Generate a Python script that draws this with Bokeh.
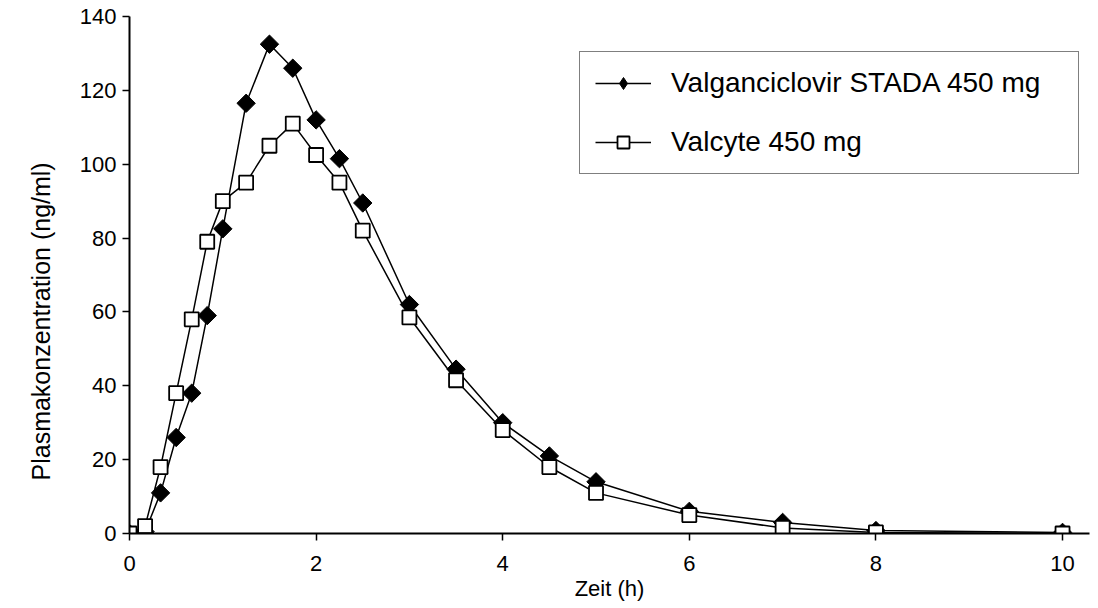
import math
from bokeh.plotting import figure
from bokeh.models import Range1d, Legend, LegendItem, Title
from bokeh.embed import file_html
from bokeh.resources import INLINE

# ---- data ----
time_h = [0, 0.167, 0.333, 0.5, 0.667, 0.833, 1.0, 1.25, 1.5, 1.75, 2.0, 2.25,
          2.5, 3.0, 3.5, 4.0, 4.5, 5.0, 6.0, 7.0, 8.0, 10.0]
stada = [0, 0.5, 11, 26, 38, 59, 82.5, 116.5, 132.5, 126, 112, 101.5,
         89.5, 62, 44.5, 30, 21, 14, 6, 3, 0.8, 0.3]
valcyte = [0, 2, 18, 38, 58, 79, 90, 95, 105, 111, 102.5, 95,
           82, 58.5, 41.5, 28, 18, 11, 5, 1.5, 0.3, 0]
x_ticks = [0, 2, 4, 6, 8, 10]
y_ticks = [0, 20, 40, 60, 80, 100, 120, 140]
series_names = ["Valganciclovir STADA 450 mg", "Valcyte 450 mg"]
x_title = "Zeit (h)"
y_title = "Plasmakonzentration (ng/ml)"

FONT = "Liberation Sans"

p = figure(width=1095, height=606, output_backend="svg", toolbar_location=None,
           x_range=Range1d(0, 10.289), y_range=Range1d(0, 140),
           min_border_left=129, min_border_right=6, min_border_top=16,
           min_border_bottom=73)
p.outline_line_color = None
p.xgrid.visible = False
p.ygrid.visible = False
p.background_fill_color = "white"
p.border_fill_color = "white"

for ax in (p.xaxis, p.yaxis):
    ax.axis_line_width = 2
    ax.axis_line_color = "black"
    ax.major_tick_line_width = 1.5
    ax.major_tick_line_color = "black"
    ax.major_tick_in = 0
    ax.major_tick_out = 7
    ax.minor_tick_line_color = None
    ax.major_label_text_font = FONT
    ax.major_label_text_font_size = "22px"
    ax.major_label_text_color = "black"
p.xaxis.major_label_standoff = 15
p.yaxis.major_label_standoff = 6

p.xaxis.ticker = x_ticks
p.yaxis.ticker = y_ticks

# series: STADA (filled diamonds) then Valcyte (open squares) on top
l1 = p.line(time_h, stada, line_color="black", line_width=1.5)
s1 = p.scatter(time_h, stada, marker="square", angle=math.pi / 4, size=13,
               fill_color="black", line_color="black", line_width=1)
l2 = p.line(time_h, valcyte, line_color="black", line_width=1.5)
s2 = p.scatter(time_h, valcyte, marker="square", size=14,
               fill_color="white", line_color="black", line_width=1.8)

# legend-only diamond marker (placed outside the visible range)
d1 = p.scatter([-100], [-100], marker="diamond", size=16,
               fill_color="black", line_color="black")

legend = Legend(items=[LegendItem(label=series_names[0], renderers=[l1, d1]),
                       LegendItem(label=series_names[1], renderers=[l2, s2])],
                location=(450, 359), margin=0, padding=15, spacing=27,
                glyph_width=56, glyph_height=30, label_height=30,
                label_width=392, label_standoff=20,
                label_text_font=FONT, label_text_font_size="28px",
                label_text_color="black",
                border_line_color="black", border_line_width=1.5,
                background_fill_color="white", background_fill_alpha=1)
p.add_layout(legend)

p.add_layout(Title(text=x_title, align="center", standoff=0,
                   text_font=FONT, text_font_size="22px",
                   text_font_style="normal", text_color="black"), "below")
p.add_layout(Title(text=y_title, align="left", offset=53, standoff=44,
                   text_font=FONT, text_font_size="25px",
                   text_font_style="normal", text_color="black"), "left")

open("out.html", "w").write(file_html(p, INLINE))
